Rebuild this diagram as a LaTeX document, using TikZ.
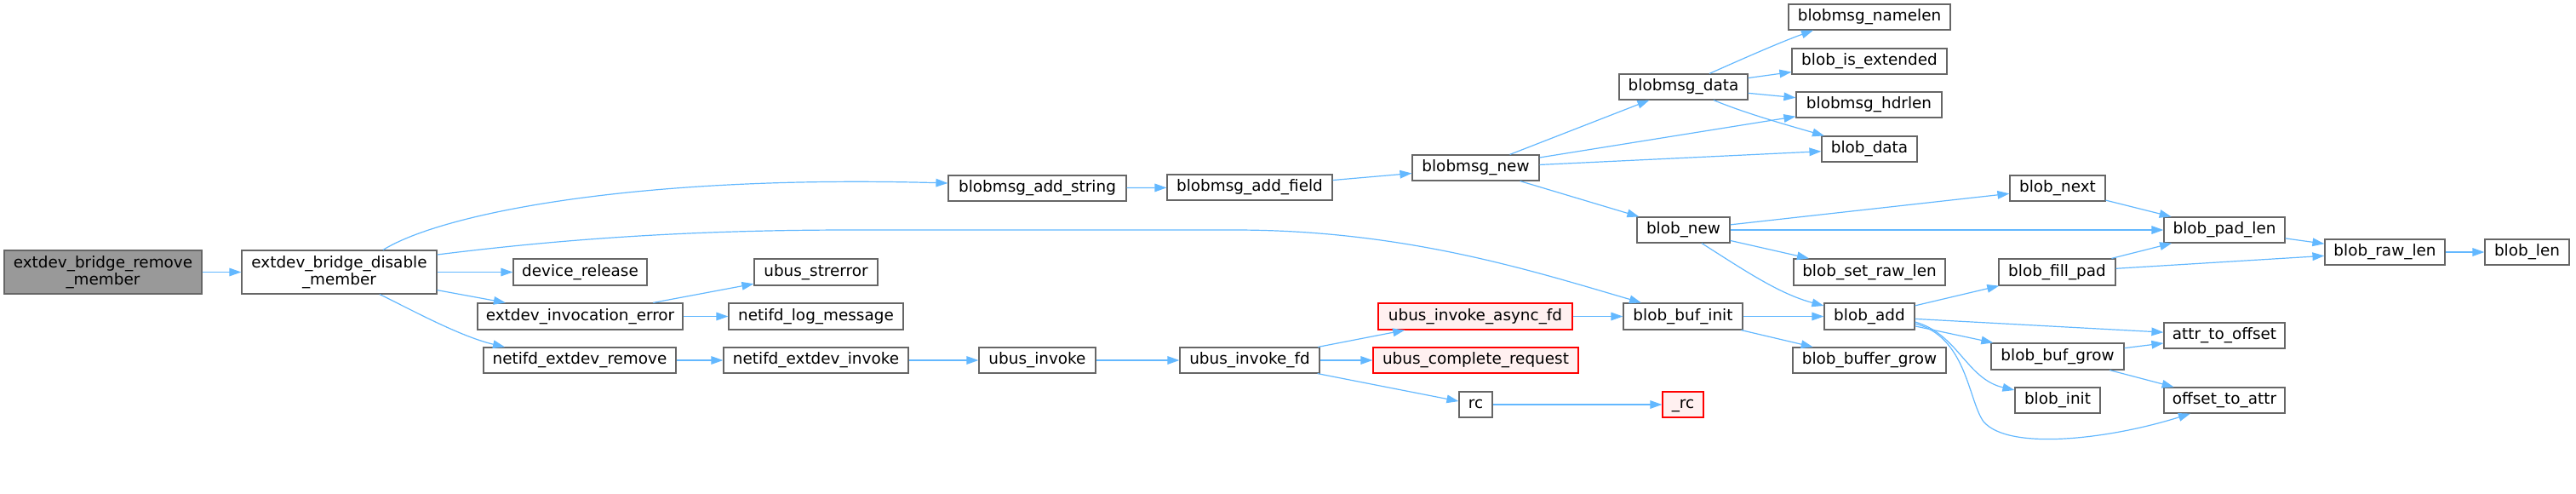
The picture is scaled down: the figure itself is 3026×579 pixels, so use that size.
\documentclass[tikz,border=0pt]{standalone}
\usepackage{fontspec}
\setmainfont{DejaVu Sans}
\usetikzlibrary{arrows.meta}
\definecolor{edgec}{HTML}{63B8FF}
\definecolor{bordc}{HTML}{666666}
\definecolor{mainf}{HTML}{999999}
\definecolor{redf}{HTML}{FFF0F0}
\definecolor{redb}{HTML}{FF0000}
\newcommand\mknode[7]{%
 \pgfmathsetmacro\mkw{(#5-#3)*0.5}%
 \pgfmathsetmacro\mkh{(#6-#4)*0.5}%
 \node[#1, minimum width=\mkw pt, minimum height=\mkh pt] (#2) at ({(#3+#5)/2},{(#4+#6)/2}) {#7};}
\begin{document}
\begin{tikzpicture}[x=0.5pt,y=-0.5pt,
 fn/.style={draw=bordc, fill=white, line width=0.6pt, inner sep=0pt,
   font=\fontsize{9.2pt}{10pt}\selectfont, text height=6.9pt, text depth=2.2pt},
 fntwo/.style={fn, text height=, text depth=, align=center},
 mainfn/.style={fntwo, fill=mainf},
 redfn/.style={fn, draw=redb, fill=redf},
 edge/.style={draw=edgec, line width=0.6pt, -{Triangle[length=7pt,width=4.8pt]}}]
\useasboundingbox (0,0) rectangle (3026,579);

\mknode{mainfn}{remove}{5}{294}{237}{345}{extdev\_bridge\_remove\\\_member}
\mknode{fntwo}{disable}{284}{294}{513}{345}{extdev\_bridge\_disable\\\_member}
\mknode{fn}{devrel}{603}{304}{760}{335}{device\_release}
\mknode{fn}{inverr}{561}{356}{802}{387}{extdev\_invocation\_error}
\mknode{fn}{extrm}{568}{408}{794}{438}{netifd\_extdev\_remove}
\mknode{fn}{strerr}{886}{304}{1031}{335}{ubus\_strerror}
\mknode{fn}{logmsg}{856}{356}{1061}{387}{netifd\_log\_message}
\mknode{fn}{extinv}{850}{408}{1067}{438}{netifd\_extdev\_invoke}
\mknode{fn}{addstr}{1114}{206}{1323}{236}{blobmsg\_add\_string}
\mknode{fn}{addfld}{1371}{205}{1565}{235}{blobmsg\_add\_field}
\mknode{fn}{uinv}{1150}{408}{1287}{438}{ubus\_invoke}
\mknode{fn}{uinvfd}{1386}{408}{1550}{438}{ubus\_invoke\_fd}
\mknode{fn}{bmnew}{1659}{182}{1808}{212}{blobmsg\_new}
\mknode{fn}{bmdata}{1902}{87}{2053}{117}{blobmsg\_data}
\mknode{fn}{bnew}{1923}{255}{2032}{285}{blob\_new}
\mknode{fn}{bufinit}{1907}{356}{2047}{387}{blob\_buf\_init}
\mknode{redfn}{async}{1619}{356}{1847}{387}{ubus\_invoke\_async\_fd}
\mknode{redfn}{complreq}{1613}{408}{1854}{438}{ubus\_complete\_request}
\mknode{fn}{rc}{1714}{460}{1753}{490}{rc}
\mknode{redfn}{urc}{1953}{460}{2001}{490}{\_rc}
\mknode{fn}{namelen}{2101}{5}{2291}{35}{blobmsg\_namelen}
\mknode{fn}{isext}{2105}{57}{2287}{87}{blob\_is\_extended}
\mknode{fn}{hdrlen}{2110}{108}{2281}{138}{blobmsg\_hdrlen}
\mknode{fn}{bdata}{2140}{160}{2252}{190}{blob\_data}
\mknode{fn}{bnext}{2361}{206}{2473}{236}{blob\_next}
\mknode{fn}{setraw}{2107}{304}{2285}{335}{blob\_set\_raw\_len}
\mknode{fn}{fillpad}{2348}{304}{2485}{335}{blob\_fill\_pad}
\mknode{fn}{badd}{2143}{356}{2249}{387}{blob\_add}
\mknode{fn}{bufgrowbuf}{2106}{408}{2286}{438}{blob\_buffer\_grow}
\mknode{fn}{bbufgrow}{2339}{403}{2495}{434}{blob\_buf\_grow}
\mknode{fn}{binit}{2367}{455}{2467}{485}{blob\_init}
\mknode{fn}{padlen}{2542}{255}{2684}{285}{blob\_pad\_len}
\mknode{fn}{rawlen}{2731}{281}{2872}{311}{blob\_raw\_len}
\mknode{fn}{blen}{2919}{281}{3018}{311}{blob\_len}
\mknode{fn}{a2o}{2542}{379}{2684}{409}{attr\_to\_offset}
\mknode{fn}{o2a}{2542}{455}{2684}{485}{offset\_to\_attr}

\draw[edge] (remove) -- (disable);
\draw[edge] (disable.north -| 450,0) .. controls (520,250) and (750,205) .. (addstr.west |- 0,215);
\draw[edge] (disable.east |- 0,299) .. controls (650,282) and (800,270) .. (1000,270) -- (1450,270) .. controls (1650,270) and (1800,318) .. (bufinit.north -| 1928,0);
\draw[edge] (disable) -- (devrel);
\draw[edge] (disable) -- (inverr);
\draw[edge] (disable.south -| 446,0) .. controls (480,362) and (540,395) .. (extrm.north -| 593,0);
\draw[edge] (inverr) -- (strerr);
\draw[edge] (inverr) -- (logmsg);
\draw[edge] (extrm) -- (extinv);
\draw[edge] (extinv) -- (uinv);
\draw[edge] (uinv) -- (uinvfd);
\draw[edge] (uinvfd) -- (async);
\draw[edge] (uinvfd) -- (complreq);
\draw[edge] (uinvfd) -- (rc);
\draw[edge] (rc) -- (urc);
\draw[edge] (async) -- (bufinit);
\draw[edge] (addstr) -- (addfld);
\draw[edge] (addfld) -- (bmnew);
\draw[edge] (bmnew) -- (bmdata);
\draw[edge] (bmnew) -- (hdrlen);
\draw[edge] (bmnew) -- (bdata);
\draw[edge] (bmnew) -- (bnew);
\draw[edge] (bmdata.north -| 2008,0) .. controls (2045,70) and (2090,50) .. (namelen.south -| 2130,0);
\draw[edge] (bmdata) -- (isext);
\draw[edge] (bmdata) -- (hdrlen);
\draw[edge] (bmdata.south -| 2013,0) .. controls (2050,133) and (2100,147) .. (bdata.north -| 2143,0);
\draw[edge] (bnew) -- (bnext);
\draw[edge] (bnew) -- (padlen);
\draw[edge] (bnew) -- (setraw);
\draw[edge] (bnew.south -| 1999,0) .. controls (2050,318) and (2090,345) .. (badd.west |- 0,359);
\draw[edge] (bufinit) -- (badd);
\draw[edge] (bufinit) -- (bufgrowbuf);
\draw[edge] (bnext) -- (padlen);
\draw[edge] (fillpad) -- (padlen);
\draw[edge] (fillpad) -- (rawlen);
\draw[edge] (badd) -- (fillpad);
\draw[edge] (badd) -- (a2o);
\draw[edge] (badd) -- (bbufgrow);
\draw[edge] (badd.east |- 0,378) .. controls (2300,392) and (2310,445) .. (binit.west |- 0,458);
\draw[edge] (badd.east |- 0,380) .. controls (2310,395) and (2312,470) .. (2330,495) .. controls (2360,530) and (2480,515) .. (o2a.south -| 2573,0);
\draw[edge] (bbufgrow) -- (a2o);
\draw[edge] (bbufgrow) -- (o2a);
\draw[edge] (padlen) -- (rawlen);
\draw[edge] (rawlen) -- (blen);
\end{tikzpicture}
\end{document}
